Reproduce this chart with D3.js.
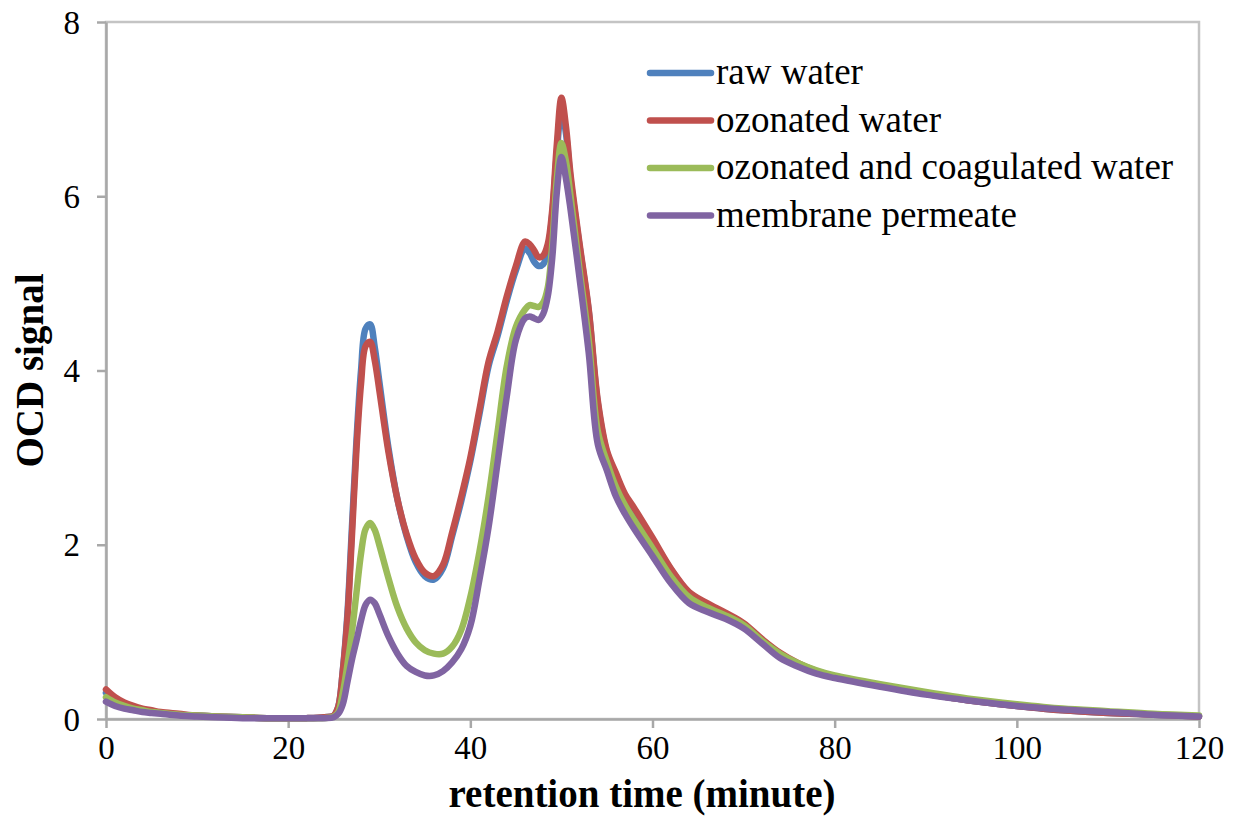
<!DOCTYPE html>
<html>
<head>
<meta charset="utf-8">
<script src="https://cdn.jsdelivr.net/npm/d3@7"></script>
<style>
  html, body { margin: 0; padding: 0; background: #fff; }
  svg { display: block; }
  text { font-family: "Liberation Serif", serif; fill: #000; }
</style>
</head>
<body>
<svg id="chart" width="1234" height="816"></svg>
<script>
// Retention time (minutes) shared by all four chromatograms
const time = [0,1,2,3,4,5,6,8,10,12,15,18,20,22,24,25,25.5,26,26.5,27,27.5,28,28.5,29,29.5,30,31,32,33,34,35,36,37,38,39,40,41,42,43,44,45,46,46.5,47,47.5,48,48.5,49,49.5,50,50.5,51,52,53,54,55,56,57,58,60,62,64,66,68,70,72,74,76,78,80,85,90,95,100,105,110,115,120];

const rawWater = [0.3,0.22,0.17,0.13,0.11,0.09,0.07,0.05,0.04,0.03,0.02,0.01,0.01,0.01,0.02,0.04,0.14,0.56,1.2,2.2,3.2,4.0,4.48,4.53,4.27,3.88,3.12,2.52,2.1,1.8,1.64,1.6,1.73,2.1,2.5,2.96,3.5,4.05,4.4,4.8,5.15,5.4,5.35,5.25,5.2,5.22,5.38,5.8,6.5,7.0,6.72,6.2,5.42,4.68,3.62,3.06,2.8,2.56,2.4,2.06,1.72,1.45,1.32,1.21,1.09,0.91,0.75,0.63,0.55,0.49,0.38,0.29,0.21,0.15,0.1,0.07,0.05,0.03];

const ozonatedWater = [0.34,0.25,0.19,0.15,0.12,0.1,0.08,0.06,0.04,0.03,0.02,0.01,0.01,0.01,0.02,0.04,0.14,0.55,1.15,2.1,3.1,3.85,4.28,4.33,4.12,3.78,3.07,2.52,2.12,1.84,1.68,1.64,1.77,2.14,2.55,3.0,3.55,4.1,4.45,4.85,5.2,5.48,5.45,5.38,5.3,5.32,5.45,5.85,6.6,7.13,6.8,6.25,5.45,4.7,3.65,3.08,2.82,2.58,2.42,2.08,1.73,1.46,1.33,1.22,1.1,0.92,0.76,0.64,0.55,0.49,0.38,0.29,0.21,0.15,0.1,0.07,0.05,0.03];

const coagulatedWater = [0.25,0.19,0.15,0.12,0.1,0.08,0.07,0.05,0.04,0.03,0.02,0.01,0.01,0.01,0.01,0.03,0.08,0.3,0.62,1.0,1.45,1.9,2.18,2.25,2.17,2.0,1.62,1.28,1.04,0.88,0.79,0.75,0.75,0.83,1.02,1.4,1.92,2.55,3.3,4.05,4.5,4.7,4.75,4.74,4.73,4.78,4.95,5.45,6.2,6.61,6.4,6.0,5.15,4.35,3.3,2.95,2.66,2.45,2.28,1.96,1.64,1.4,1.28,1.19,1.08,0.9,0.75,0.64,0.56,0.5,0.4,0.31,0.23,0.17,0.12,0.09,0.06,0.04];

const membranePermeate = [0.2,0.15,0.12,0.1,0.08,0.07,0.06,0.04,0.03,0.02,0.01,0.01,0.01,0.01,0.01,0.02,0.06,0.17,0.42,0.68,0.9,1.13,1.31,1.37,1.33,1.21,0.95,0.75,0.61,0.54,0.5,0.5,0.55,0.65,0.8,1.07,1.6,2.2,2.95,3.7,4.35,4.6,4.62,4.6,4.58,4.65,4.85,5.3,6.05,6.45,6.2,5.85,5.05,4.2,3.15,2.85,2.55,2.35,2.18,1.87,1.56,1.33,1.23,1.15,1.04,0.87,0.7,0.6,0.52,0.47,0.37,0.28,0.21,0.15,0.11,0.08,0.05,0.03];

const seriesNames = ["raw water", "ozonated water", "ozonated and coagulated water", "membrane permeate"];
const seriesColors = ["#4F81BD", "#C0504D", "#9BBB59", "#8064A2"];
const seriesValues = [rawWater, ozonatedWater, coagulatedWater, membranePermeate];

const xTicks = [0, 20, 40, 60, 80, 100, 120];
const yTicks = [0, 2, 4, 6, 8];

const svg = d3.select("#chart");
const plot = { left: 106, right: 1199, top: 22, bottom: 719 };

const x = d3.scaleLinear().domain([0, 120]).range([plot.left, plot.right]);
const y = d3.scaleLinear().domain([0, 8]).range([plot.bottom, plot.top]);

// plot-area frame
svg.append("rect")
  .attr("x", plot.left).attr("y", plot.top)
  .attr("width", plot.right - plot.left).attr("height", plot.bottom - plot.top)
  .attr("fill", "none").attr("stroke", "#C4C4C4").attr("stroke-width", 2.5);

// axes
const xAxis = svg.append("g")
  .attr("transform", `translate(0,${plot.bottom})`)
  .call(d3.axisBottom(x).tickValues(xTicks).tickSize(9).tickPadding(8).tickSizeOuter(0));
const yAxis = svg.append("g")
  .attr("transform", `translate(${plot.left},0)`)
  .call(d3.axisLeft(y).tickValues(yTicks).tickSize(9).tickPadding(17).tickSizeOuter(0));

[xAxis, yAxis].forEach(g => {
  g.select(".domain").attr("stroke", "#A8A8A8").attr("stroke-width", 2.5);
  g.selectAll(".tick line").attr("stroke", "#A8A8A8").attr("stroke-width", 2.5);
  g.selectAll(".tick text")
    .attr("font-family", "'Liberation Serif', serif")
    .attr("font-size", 33).attr("fill", "#000");
});
yAxis.selectAll(".tick text").attr("dy", "0.34em");

// series lines
const line = d3.line()
  .x((d, i) => x(time[i]))
  .y(d => y(d))
  .curve(d3.curveCatmullRom.alpha(0.5));

const lines = svg.append("g");
seriesValues.forEach((vals, k) => {
  lines.append("path")
    .datum(vals)
    .attr("d", line)
    .attr("fill", "none")
    .attr("stroke", seriesColors[k])
    .attr("stroke-width", 6.5)
    .attr("stroke-linejoin", "round")
    .attr("stroke-linecap", "round");
});

// axis titles
svg.append("text")
  .attr("x", 642)
  .attr("y", 807)
  .attr("text-anchor", "middle")
  .attr("font-size", 39)
  .attr("font-weight", "bold")
  .text("retention time (minute)");

svg.append("text")
  .attr("transform", `translate(43,${(plot.top + plot.bottom) / 2}) rotate(-90)`)
  .attr("text-anchor", "middle")
  .attr("font-size", 39)
  .attr("font-weight", "bold")
  .text("OCD signal");

// legend
const legend = svg.append("g");
seriesNames.forEach((name, k) => {
  const ly = 73 + k * 47.5;
  legend.append("line")
    .attr("x1", 650).attr("x2", 711)
    .attr("y1", ly).attr("y2", ly)
    .attr("stroke", seriesColors[k])
    .attr("stroke-width", 6.5)
    .attr("stroke-linecap", "round");
  legend.append("text")
    .attr("x", 716).attr("y", ly + 11)
    .attr("font-size", 37)
    .text(name);
});
</script>
</body>
</html>
